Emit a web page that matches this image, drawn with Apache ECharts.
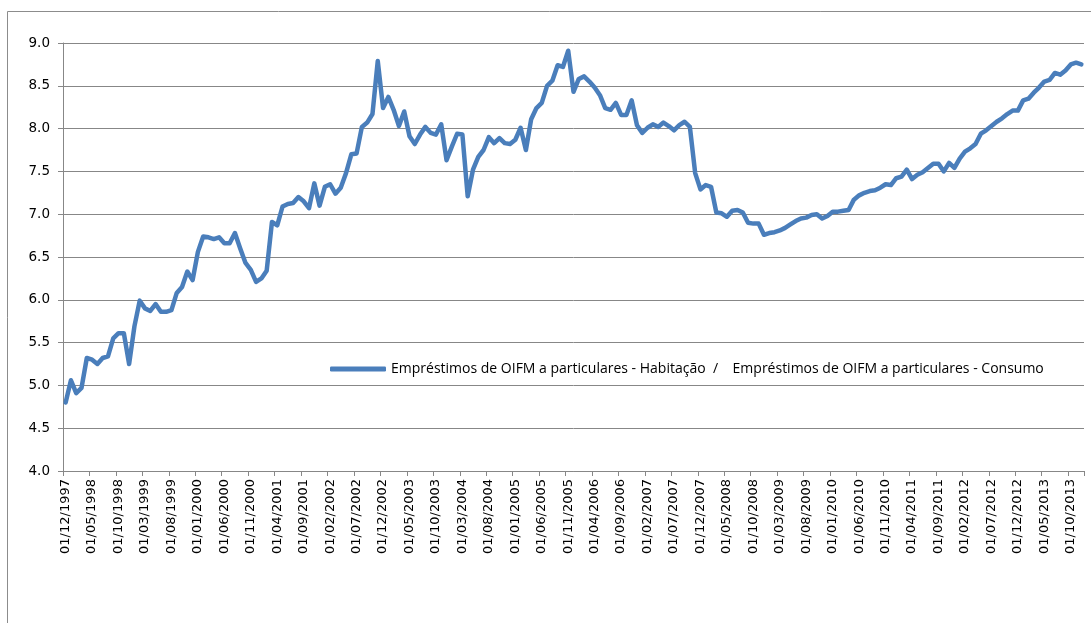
<!DOCTYPE html>
<html>
<head>
<meta charset="utf-8">
<script src="https://cdn.jsdelivr.net/npm/echarts@6/dist/echarts.min.js"></script>
<style>
html,body{margin:0;padding:0;background:#fff;}
#chart{width:1091px;height:623px;}
</style>
</head>
<body>
<div id="chart"></div>
<script>
// Monthly categories: 01/12/1997 .. 01/12/2013
var startYear = 1997, startMonth = 12, nMonths = 193;
var categories = [];
for (var k = 0; k < nMonths; k++) {
  var m = (startMonth - 1 + k) % 12 + 1;
  var y = startYear + Math.floor((startMonth - 1 + k) / 12);
  categories.push('01/' + (m < 10 ? '0' + m : '' + m) + '/' + y);
}

var seriesName = 'Empréstimos de OIFM a particulares - Habitação  /    Empréstimos de OIFM a particulares - Consumo';

var values = [
  4.80, 5.06, 4.91, 4.97, 5.32, 5.30, 5.25, 5.32, 5.34, 5.55,
  5.61, 5.61, 5.25, 5.69, 5.99, 5.90, 5.87, 5.95, 5.86, 5.86,
  5.88, 6.08, 6.15, 6.33, 6.23, 6.56, 6.74, 6.73, 6.71, 6.73,
  6.66, 6.66, 6.78, 6.60, 6.43, 6.35, 6.21, 6.25, 6.34, 6.91,
  6.87, 7.09, 7.12, 7.13, 7.20, 7.15, 7.07, 7.36, 7.10, 7.32,
  7.35, 7.24, 7.31, 7.48, 7.70, 7.71, 8.02, 8.07, 8.17, 8.79,
  8.24, 8.37, 8.22, 8.03, 8.20, 7.91, 7.82, 7.93, 8.02, 7.95,
  7.93, 8.05, 7.63, 7.79, 7.94, 7.93, 7.21, 7.52, 7.67, 7.75,
  7.90, 7.83, 7.89, 7.83, 7.82, 7.87, 8.01, 7.75, 8.11, 8.24,
  8.30, 8.50, 8.56, 8.74, 8.72, 8.91, 8.43, 8.58, 8.61, 8.55,
  8.48, 8.39, 8.24, 8.22, 8.30, 8.16, 8.16, 8.33, 8.04, 7.95,
  8.01, 8.05, 8.02, 8.07, 8.03, 7.98, 8.04, 8.08, 8.02, 7.48,
  7.29, 7.34, 7.32, 7.02, 7.01, 6.97, 7.04, 7.05, 7.02, 6.90,
  6.89, 6.89, 6.76, 6.78, 6.79, 6.81, 6.84, 6.88, 6.92, 6.95,
  6.96, 6.99, 7.00, 6.95, 6.98, 7.03, 7.03, 7.04, 7.05, 7.17,
  7.22, 7.25, 7.27, 7.28, 7.31, 7.35, 7.34, 7.42, 7.44, 7.52,
  7.41, 7.46, 7.49, 7.54, 7.59, 7.59, 7.50, 7.60, 7.54, 7.65,
  7.73, 7.77, 7.82, 7.94, 7.98, 8.03, 8.08, 8.12, 8.17, 8.21,
  8.21, 8.33, 8.35, 8.42, 8.48, 8.55, 8.57, 8.65, 8.63, 8.68,
  8.75, 8.77, 8.75
];

var yMin = 4, yMax = 9, yStep = 0.5;

var chart = echarts.init(document.getElementById('chart'), null, {renderer: 'canvas'});
var gridColor = '#878787';
chart.setOption({
  animation: false,
  backgroundColor: '#ffffff',
  graphic: [{
    type: 'rect',
    shape: {x: 7.5, y: 11.5, width: 1100, height: 700},
    style: {fill: 'none', stroke: '#8c8c8c', lineWidth: 1},
    silent: true,
    z: -1
  }],
  grid: {left: 63, top: 43, right: 7, bottom: 152, containLabel: false},
  legend: {
    show: true,
    left: 325,
    top: 357,
    icon: 'roundRect',
    itemWidth: 56,
    itemHeight: 5,
    itemGap: 4,
    data: [seriesName],
    textStyle: {fontFamily: 'Open Sans', fontSize: 14, color: '#000'}
  },
  xAxis: {
    type: 'category',
    data: categories,
    boundaryGap: true,
    axisLine: {show: true, lineStyle: {color: gridColor, width: 1}},
    axisTick: {show: true, interval: 4, length: 5, inside: false, lineStyle: {color: gridColor}},
    axisLabel: {
      interval: 4,
      rotate: 90,
      margin: 8,
      fontFamily: 'DejaVu Sans',
      fontSize: 13,
      color: '#000'
    },
    splitLine: {show: false}
  },
  yAxis: {
    type: 'value',
    min: yMin,
    max: yMax,
    interval: yStep,
    axisLine: {show: true, lineStyle: {color: gridColor, width: 1}},
    axisTick: {show: true, length: 5, inside: false, lineStyle: {color: gridColor}},
    axisLabel: {
      margin: 13,
      fontFamily: 'DejaVu Sans',
      fontSize: 13.5,
      color: '#000',
      formatter: function (v) { return v.toFixed(1); }
    },
    splitLine: {show: true, lineStyle: {color: gridColor, width: 1}}
  },
  series: [{
    name: seriesName,
    type: 'line',
    data: values,
    showSymbol: false,
    symbol: 'none',
    color: '#4a7ebb',
    lineStyle: {color: '#4a7ebb', width: 4.5, cap: 'round', join: 'round'},
    itemStyle: {color: '#4a7ebb'}
  }]
});
</script>
</body>
</html>
